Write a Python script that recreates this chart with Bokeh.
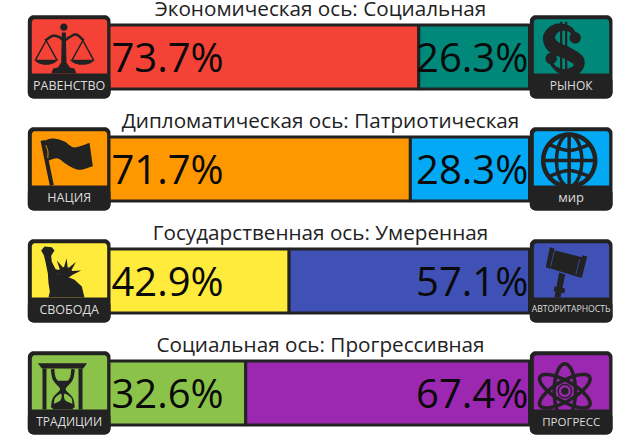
import numpy as np
from bokeh.plotting import figure
from bokeh.models import Range1d
from bokeh.core.properties import value
from bokeh.embed import file_html
from bokeh.resources import INLINE

# ---- data ----
titles = ["Экономическая ось: Социальная", "Дипломатическая ось: Патриотическая",
          "Государственная ось: Умеренная", "Социальная ось: Прогрессивная"]
left_values = [73.7, 71.7, 42.9, 32.6]
right_values = [26.3, 28.3, 57.1, 67.4]
left_labels = ["РАВЕНСТВО", "НАЦИЯ", "СВОБОДА", "ТРАДИЦИИ"]
right_labels = ["РЫНОК", "мир", "АВТОРИТАРНОСТЬ", "ПРОГРЕСС"]
left_colors = ["#F44336", "#FF9800", "#FFEB3B", "#8BC34A"]
right_colors = ["#00897B", "#03A9F4", "#3F51B5", "#9C27B0"]
left_label_sizes = [12.5, 12.5, 12.5, 12]
right_label_sizes = [12, 13, 8.7, 11.5]

DARK = "#222222"
FONT = "Open Sans"
rows = list(range(4))
row_h = 112
W, H = 624, 440

# percent scale: 0% at x 108, 100% at 529
k = 4.21
p = figure(width=W, height=H, output_backend="svg", toolbar_location=None,
           x_range=Range1d((0 - 108) / k, (W - 108) / k), y_range=Range1d(H, 0),
           min_border=0, outline_line_color=None, background_fill_color="white",
           border_fill_color="white")
p.axis.visible = False
p.grid.visible = False
p.extra_x_ranges["px"] = Range1d(0, W)

tops = [24.5 + row_h * r for r in rows]
bots = [88.5 + row_h * r for r in rows]
p.quad(left=[0] * 4, right=left_values, top=tops, bottom=bots, fill_color=left_colors,
       line_color=DARK, line_width=3)
p.quad(left=left_values, right=[100] * 4, top=tops, bottom=bots, fill_color=right_colors,
       line_color=DARK, line_width=3)

mid = [56 + row_h * r for r in rows]
p.text(x=[0.7] * 4, y=mid, text=[f"{v}%" for v in left_values], text_font=value(FONT),
       text_font_size="40px", text_color="#0a0a0a", text_align="left", text_baseline="middle")
p.text(x=[99.7] * 4, y=mid, text=[f"{v}%" for v in right_values], text_font=value(FONT),
       text_font_size="40px", text_color="#0a0a0a", text_align="right", text_baseline="middle")
p.text(x=[(320 - 108) / k] * 4, y=[7.5 + row_h * r for r in rows], text=titles, text_font=value(FONT),
       text_font_size="20.7px", text_color="#222222", text_align="center", text_baseline="middle")


# ---- icon drawing, in 270-unit crop coordinates ----
def smooth(pts, n=8):
    pts = np.array(pts, float)
    P = np.vstack([2 * pts[0] - pts[1], pts, 2 * pts[-1] - pts[-2]])
    out = []
    for i in range(1, len(P) - 2):
        for t in np.linspace(0, 1, n, endpoint=False):
            a, b, c, d = P[i - 1], P[i], P[i + 1], P[i + 2]
            out.append(0.5 * (2 * b + (c - a) * t + (2 * a - 5 * b + 4 * c - d) * t ** 2
                              + (3 * b - a - 3 * c + d) * t ** 3))
    out.append(pts[-1])
    return np.array(out)


class Icon:
    def __init__(self, ox, oy):
        self.ox, self.oy = ox, oy

    def poly(self, pts, color=DARK):
        a = np.array(pts, float)
        p.patch(self.ox + a[:, 0] / 3, self.oy + a[:, 1] / 3, fill_color=color, line_color=None,
                x_range_name="px")

    def line(self, pts, w, color=DARK):
        a = np.array(pts, float)
        p.line(self.ox + a[:, 0] / 3, self.oy + a[:, 1] / 3, line_color=color, line_width=w,
               x_range_name="px")

    def ell(self, cx, cy, rx, ry, rot=0, fill=None, w=0, color=DARK):
        t = np.linspace(0, 2 * np.pi, 73)
        x, y = rx * np.cos(t), ry * np.sin(t)
        c, s = np.cos(np.radians(rot)), np.sin(np.radians(rot))
        pts = np.c_[cx + x * c - y * s, cy + x * s + y * c]
        if fill:
            self.poly(pts, fill)
        if w:
            self.line(pts, w, color)


def rrect(x0, y0, x1, y1, r):
    t = np.linspace(0, np.pi / 2, 7)
    c, s = r * np.cos(t), r * np.sin(t)
    return np.r_[np.c_[x1 - r + c, y1 - r + s], np.c_[x0 + r - s, y1 - r + c],
                 np.c_[x0 + r - c, y0 + r - s], np.c_[x1 - r + s, y0 + r - c]]


def ribbon(pts, widths):
    c = smooth(pts)
    w = np.interp(np.linspace(0, 1, len(c)), np.linspace(0, 1, len(widths)), widths)
    d = np.gradient(c, axis=0)
    n = np.c_[-d[:, 1], d[:, 0]] / np.hypot(d[:, 0], d[:, 1])[:, None]
    return np.r_[c + n * w[:, None] / 2, (c - n * w[:, None] / 2)[::-1]]


def scales(ic):
    ic.poly([(112, 60), (124, 60), (126, 150), (136, 165), (150, 168), (156, 183), (80, 183),
             (86, 168), (100, 165), (110, 150)])
    ic.ell(118, 44, 11, 11, fill=DARK)
    ic.line(smooth([(62, 84), (85, 70), (105, 74), (118, 84), (135, 74), (155, 66), (178, 84)]), 2.5)
    ic.line([(33, 142), (65, 84), (97, 142)], 1.5)
    ic.line([(143, 142), (175, 84), (207, 142)], 1.5)
    for x0, x1 in [(28, 102), (135, 212)]:
        xm = (x0 + x1) / 2
        ic.poly(smooth([(x0, 142), (x0 + 16, 153), (xm, 157), (x1 - 16, 153), (x1, 142)]))


def dollar(ic):
    ic.poly(ribbon([(150, 80), (130, 50), (92, 46), (68, 72), (80, 102), (122, 122), (156, 145),
                    (148, 172), (108, 178), (80, 160), (72, 140)],
                   [12, 16, 26, 36, 40, 38, 36, 28, 16, 10, 10]))
    ic.ell(146, 76, 17, 17, fill=DARK)
    ic.ell(74, 138, 17, 17, fill=DARK)
    ic.line([(104, 28), (104, 195)], 2.2)
    ic.line([(119, 28), (119, 195)], 2.2)


def flag(ic):
    ic.line([(54, 48), (82, 183)], 4)
    top = smooth([(54, 50), (85, 42), (118, 50), (145, 68), (170, 64), (195, 55)])
    bot = smooth([(205, 125), (165, 136), (130, 122), (100, 102), (72, 108)])
    ic.poly(np.r_[top, bot])
    ic.line(smooth([(64, 62), (70, 80), (70, 100)]), 1, left_colors[1])


def globe(ic):
    cx, cy = 128, 108
    ic.ell(cx, cy, 78, 78, w=4.5)
    ic.ell(cx, cy, 38, 78, w=3.5)
    ic.line([(cx, cy - 78), (cx, cy + 78)], 3.5)
    ic.line([(cx - 78, cy), (cx + 78, cy)], 3.5)
    ic.line(smooth([(cx - 62, cy - 48), (cx, cy - 30), (cx + 62, cy - 48)]), 3.5)
    ic.line(smooth([(cx - 62, cy + 48), (cx, cy + 30), (cx + 62, cy + 48)]), 3.5)


def statue(ic):
    ic.poly([(50, 42), (60, 30), (82, 32), (90, 42), (80, 58), (82, 76), (100, 112), (112, 118),
             (136, 124), (150, 130), (172, 150), (180, 183), (72, 183), (76, 165), (72, 140),
             (70, 110), (62, 72), (58, 56)])
    angs = [205, 240, 275, 310, 345]
    rays = []
    for a in angs:
        for da, r in [(-13, 24), (0, 50), (13, 24)]:
            t = np.radians(a + da)
            rays.append((122 + r * np.cos(t), 115 + r * np.sin(t)))
    ic.poly(rays + [(122, 130)])


def gavel(ic, bg):
    ic.poly([(98, 108), (116, 114), (102, 183), (84, 183)])
    ic.poly([(84, 150), (116, 156), (114, 170), (82, 164)])
    ic.poly([(72, 38), (172, 64), (158, 122), (60, 92)])
    ic.poly([(70, 32), (84, 36), (70, 96), (58, 92)])
    ic.poly([(168, 56), (182, 60), (166, 124), (152, 120)])
    ic.line([(84, 42), (72, 90)], 0.8, bg)
    ic.line([(160, 68), (148, 114)], 0.8, bg)


def hourglass(ic, bg):
    ic.poly([(40, 44), (188, 44), (176, 60), (52, 60)])
    ic.poly([(54, 60), (66, 60), (66, 183), (54, 183)])
    ic.poly([(162, 60), (174, 60), (174, 183), (162, 183)])
    l = [(84, 62), (90, 92), (112, 122), (90, 150), (84, 178)]
    r = [(146, 62), (140, 92), (118, 122), (140, 150), (146, 178)]
    ic.line(smooth(l), 3.5)
    ic.line(smooth(r), 3.5)
    ic.poly([(92, 97), (138, 97), (115, 124)])
    ic.poly([(90, 150), (115, 124), (140, 150), (146, 183), (84, 183)])
    ic.poly(smooth([(88, 166), (92, 148), (110, 136), (108, 155), (88, 166)]), bg)
    ic.poly(smooth([(144, 166), (140, 148), (120, 136), (122, 155), (144, 166)]), bg)


def atom(ic):
    cx, cy = 115, 128
    ic.ell(cx, cy, 82, 32, rot=90, w=3.5)
    ic.ell(cx, cy, 86, 30, rot=30, w=3.5)
    ic.ell(cx, cy, 86, 30, rot=-30, w=3.5)
    ic.ell(cx, cy, 11, 11, fill=DARK)
    ic.ell(cx, cy, 20, 20, w=1.5)


left_draw = [scales, flag, statue, lambda ic: hourglass(ic, left_colors[3])]
right_draw = [dollar, globe, lambda ic: gavel(ic, right_colors[2]), atom]

for r in rows:
    oy = 12 + row_h * r
    for ox, col, draw, lab, fs in [(24, left_colors[r], left_draw[r], left_labels[r], left_label_sizes[r]),
                                   (526, right_colors[r], right_draw[r], right_labels[r], right_label_sizes[r])]:
        ic = Icon(ox, oy)
        ic.poly(rrect(10, 8, 258, 258, 18))
        ic.poly(rrect(22, 20, 248, 240, 10), col)
        draw(ic)
        ic.poly([(18, 183), (252, 183), (252, 244), (18, 244)])
        ic.poly(rrect(10, 190, 258, 258, 18))
        tx = ox + (10 + 258) / 6
        p.text(x=[tx], y=[oy + 72.5], text=[lab], text_font=value(FONT), text_font_size=f"{fs}px",
               text_color="#DDDDDD", text_align="center", text_baseline="middle", x_range_name="px")

open("out.html", "w").write(file_html(p, INLINE))
